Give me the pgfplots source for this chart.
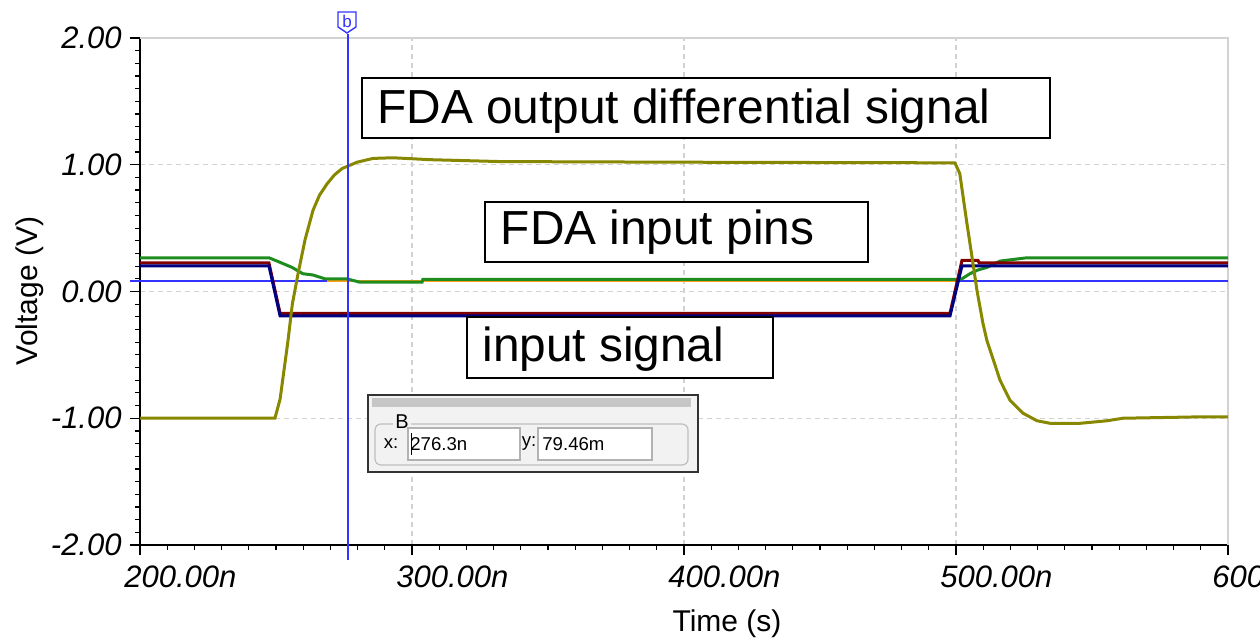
\documentclass[border=0pt]{standalone}
\usepackage{fontspec}
\setmainfont{Liberation Sans}
\usepackage{pgfplots}
\pgfplotsset{compat=1.18}
\definecolor{olivec}{RGB}{135,135,0}
\definecolor{greenc}{RGB}{30,140,30}
\definecolor{redc}{RGB}{128,0,0}
\definecolor{navyc}{RGB}{0,0,128}
\definecolor{curblue}{rgb}{0.2,0.2,1}
\definecolor{orangec}{RGB}{255,160,20}
\begin{document}
\begin{tikzpicture}
\begin{axis}[
  at={(70pt,48pt)}, anchor=south west,
  width=544pt, height=253.5pt, scale only axis,
  xmin=200, xmax=600, ymin=-2, ymax=2,
  axis x line*=bottom, axis y line*=left,
  axis line style={black, line width=0.8pt, -},
  xtick={200,300,400,500,600},
  xticklabels={200.00n,300.00n,400.00n,500.00n,600.00n},
  ytick={-2,-1,0,1,2},
  yticklabels={-2.00,-1.00,0.00,1.00,2.00},
  minor x tick num=9, minor y tick num=9,
  tick align=outside, major tick length=5pt, minor tick length=2.5pt,
  tick style={black, line width=0.6pt},
  xmajorgrids, ymajorgrids,
  major grid style={gray!35, dash pattern=on 2.5pt off 2pt, line width=0.6pt},
  ticklabel style={font=\fontsize{15.5}{18}\selectfont\itshape},
  xticklabel style={anchor=north west, inner sep=0pt, xshift=-8pt, yshift=-5pt},
  yticklabel style={anchor=east, inner sep=0pt, xshift=-4pt},
  clip=false,
]
\draw[gray!35, line width=0.8pt] (rel axis cs:0,1) -- (rel axis cs:1,1) -- (rel axis cs:1,0);
% cursor horizontal line
\draw[curblue, line width=1pt] (axis cs:196.3,0.0795) -- (axis cs:600,0.0795);
% orange trace
\addplot[draw=orangec, mark=none, line width=1pt] coordinates {(268.8,0.0795) (499.6,0.0795)};
% FDA input pins (green)
\addplot[draw=greenc, mark=none, line width=1.5pt] coordinates {
(200,0.266) (247.4,0.266) (251.5,0.23) (255.9,0.19) (259.9,0.14) (263.6,0.13)
(268,0.10) (276,0.10) (280.9,0.073) (303.7,0.073) (304,0.095) (499.6,0.095)
(502.2,0.10) (505.1,0.14) (508.1,0.17) (511.4,0.19) (516.2,0.24) (526.1,0.266) (600,0.266)};
% input signal (dark red)
\addplot[draw=redc, mark=none, line width=1.5pt] coordinates {
(200,0.226) (247.4,0.226) (251.5,-0.172) (497.8,-0.172) (502.2,0.245)
(508.1,0.245) (508.5,0.226) (600,0.226)};
% input signal (navy)
\addplot[draw=navyc, mark=none, line width=1.5pt] coordinates {
(200,0.203) (247.4,0.203) (251.5,-0.192) (497.8,-0.192) (502.2,0.203) (600,0.203)};
% FDA output differential (olive)
\addplot[draw=olivec, mark=none, line width=1.5pt] coordinates {
(200,-1.00) (249.6,-1.00) (251.5,-0.85) (254.4,-0.39) (256,-0.10) (258.1,0.14)
(260.7,0.41) (263.6,0.64) (266,0.76) (268.8,0.85) (271.5,0.92) (274.3,0.97)
(279.8,1.02) (285.7,1.05) (293.0,1.055) (306.6,1.04) (332.4,1.025) (400,1.02)
(499.6,1.015) (501.4,0.93) (504,0.54) (505.9,0.27) (507.7,0.01) (509.9,-0.25)
(511.4,-0.39) (516.2,-0.70) (519.9,-0.86) (524.6,-0.96) (529.8,-1.02)
(534.6,-1.04) (545.6,-1.04) (555.5,-1.02) (561.4,-1.00) (587.1,-0.99) (600,-0.99)};
% cursor vertical line
\draw[curblue, line width=1pt] (axis cs:276.3,-2.12) -- (axis cs:276.3,2.035);
\end{axis}
% axis labels
\node[font=\fontsize{15}{18}\selectfont, rotate=90] at (15pt,175pt) {Voltage (V)};
\node[font=\fontsize{15}{18}\selectfont] at (363.5pt,8.5pt) {Time (s)};
% cursor marker
\draw[curblue, line width=0.7pt, fill=white] (169pt,314.5pt) -- (178pt,314.5pt) -- (178pt,307pt) -- (173.5pt,304pt) -- (169pt,307pt) -- cycle;
\node[curblue, font=\fontsize{8.5}{9}\selectfont, inner sep=0pt] at (173.5pt,310pt) {b};
% annotation boxes
\draw[black, line width=1pt, fill=white] (180.85pt,251.35pt) rectangle (525pt,281.35pt);
\node[anchor=base west, inner sep=0pt, font=\fontsize{23.9}{28}\selectfont] at (188.5pt,258.85pt) {FDA output differential signal};
\draw[black, line width=1pt, fill=white] (242.5pt,189.65pt) rectangle (434pt,219.65pt);
\node[anchor=base west, inner sep=0pt, font=\fontsize{23.9}{28}\selectfont] at (250.2pt,198pt) {FDA input pins};
\draw[black, line width=1pt, fill=white] (233.65pt,131.65pt) rectangle (386.65pt,161.85pt);
\node[anchor=base west, inner sep=0pt, font=\fontsize{23.9}{28}\selectfont] at (241pt,139.5pt) {input signal};
% cursor readout window
\draw[black!80, line width=1pt, fill=gray!10] (184pt,84.5pt) rectangle (349pt,123pt);
\fill[gray!45] (186pt,117pt) rectangle (345.5pt,121.5pt);
\draw[gray!50, line width=0.6pt, rounded corners=3pt] (187.5pt,88pt) rectangle (344pt,108.5pt);
\node[fill=gray!10, inner sep=1pt, font=\fontsize{10}{11}\selectfont] at (201pt,109.5pt) {B};
\node[font=\fontsize{9.3}{11}\selectfont, inner sep=0pt] at (195.5pt,98.5pt) {x:};
\draw[gray!60, line width=0.6pt, fill=white] (204pt,90.5pt) rectangle (260pt,106.5pt);
\node[anchor=west, font=\fontsize{9.3}{11}\selectfont, inner sep=0pt] at (205pt,98.5pt) {276.3n};
\draw[black, line width=0.5pt] (205.5pt,93pt) -- (205.5pt,104pt);
\node[font=\fontsize{9.3}{11}\selectfont, inner sep=0pt] at (264.5pt,98.5pt) {y:};
\draw[gray!60, line width=0.6pt, fill=white] (269pt,90.5pt) rectangle (326pt,106.5pt);
\node[anchor=west, font=\fontsize{9.3}{11}\selectfont, inner sep=0pt] at (271pt,98.5pt) {79.46m};
\pgfresetboundingbox
\path[use as bounding box] (0pt,0pt) rectangle (630pt,320.5pt);
\end{tikzpicture}
\end{document}
